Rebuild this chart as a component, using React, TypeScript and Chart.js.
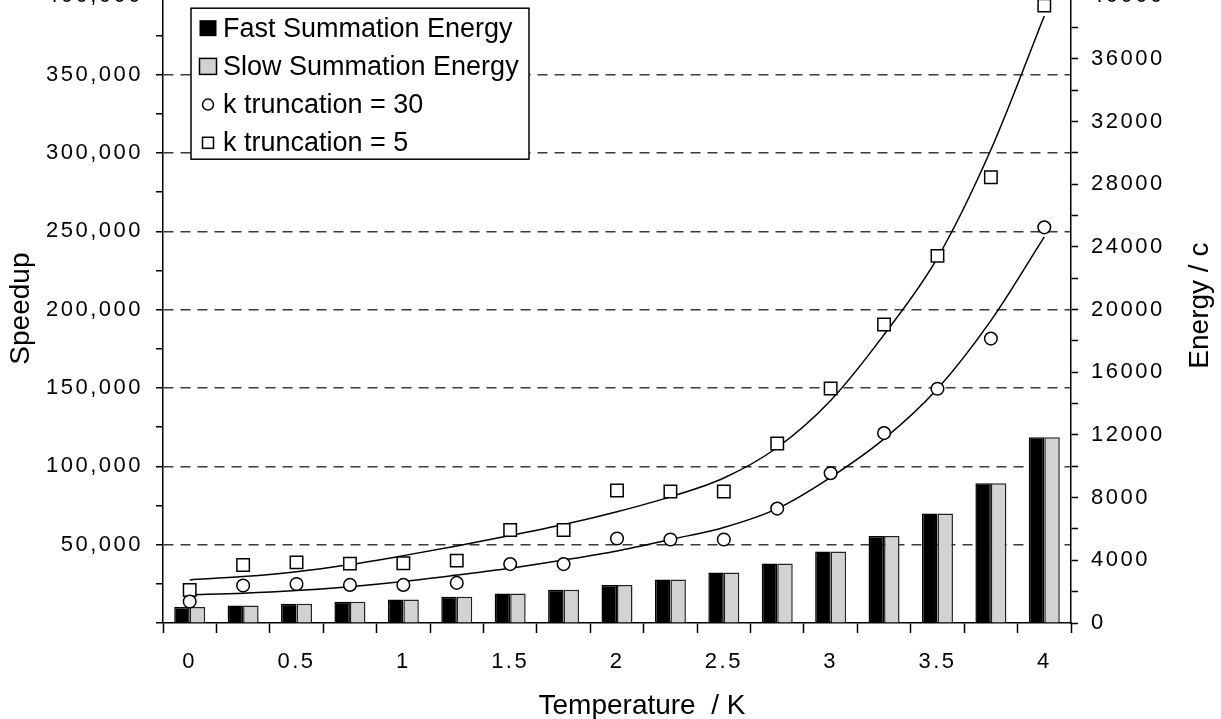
import React, { useEffect, useRef } from 'react';
import { Chart, registerables } from 'chart.js';

Chart.register(...registerables);

// ---- data ----
const temperatures = ['0', '0.25', '0.5', '0.75', '1', '1.25', '1.5', '1.75', '2', '2.25', '2.5', '2.75', '3', '3.25', '3.5', '3.75', '4'];
const fastEnergy = [1020, 1120, 1230, 1355, 1500, 1675, 1885, 2120, 2420, 2780, 3225, 3800, 4560, 5550, 6980, 8925, 11850];
const slowEnergy = [1020, 1120, 1230, 1355, 1500, 1675, 1885, 2120, 2420, 2780, 3225, 3800, 4560, 5550, 6980, 8925, 11850];
const speedupK30 = [13700, 23900, 24900, 24300, 24300, 25600, 37600, 37600, 53900, 53300, 53300, 73000, 95600, 121200, 149500, 181500, 252500];
const speedupK5 = [21100, 37000, 38700, 37900, 38100, 39800, 59400, 59400, 84600, 83900, 83900, 114600, 149700, 190500, 234300, 284400, 394000];
const fitK30 = [18000, 19000, 20700, 23200, 26500, 30600, 35000, 40200, 46000, 53300, 61000, 73000, 93000, 117500, 149500, 193000, 246400];
const fitK5 = [27500, 29600, 32700, 37300, 43000, 49200, 55800, 62800, 71000, 80500, 92500, 112000, 142000, 184000, 233000, 302000, 387400];
const seriesNames = ['Fast Summation Energy', 'Slow Summation Energy', 'k truncation = 30', 'k truncation = 5'];
const axisTitles = { x: 'Temperature  / K', y: 'Speedup', y2: 'Energy / c' };

const FONT = "'Liberation Sans', Arial, Helvetica, sans-serif";
const GRAY = '#d2d2d2';

const tickSpacingPlugin = {
  id: 'tickSpacing',
  beforeDraw(chart: any) {
    chart.ctx.letterSpacing = '2.5px';
  },
  beforeDatasetsDraw(chart: any) {
    chart.ctx.letterSpacing = '0px';
  },
};

const overlayPlugin = {
  id: 'overlay',
  afterDraw(chart: any) {
    const { ctx, chartArea: a } = chart;
    ctx.save();
    ctx.letterSpacing = '0px';
    // legend box
    const bx = a.left + 28;
    const by = a.top + 12;
    const bw = 338;
    const bh = 151;
    ctx.fillStyle = '#fff';
    ctx.fillRect(bx, by, bw, bh);
    ctx.strokeStyle = '#000';
    ctx.lineWidth = 1.5;
    ctx.strokeRect(bx, by, bw, bh);
    ctx.font = `27px ${FONT}`;
    ctx.textBaseline = 'middle';
    ctx.textAlign = 'left';
    seriesNames.forEach((name, i) => {
      const cy = by + 20 + i * 38.2;
      const mx = bx + 17;
      ctx.lineWidth = 1.5;
      ctx.strokeStyle = '#000';
      if (i === 0) {
        ctx.fillStyle = '#000';
        ctx.fillRect(mx - 8.5, cy - 8, 17, 16);
      } else if (i === 1) {
        ctx.fillStyle = GRAY;
        ctx.fillRect(mx - 8.5, cy - 8, 17, 16);
        ctx.strokeRect(mx - 8.5, cy - 8, 17, 16);
      } else if (i === 2) {
        ctx.fillStyle = '#fff';
        ctx.beginPath();
        ctx.arc(mx, cy, 5.5, 0, Math.PI * 2);
        ctx.fill();
        ctx.stroke();
      } else {
        ctx.fillStyle = '#fff';
        ctx.fillRect(mx - 5.5, cy - 5.5, 11, 11);
        ctx.strokeRect(mx - 5.5, cy - 5.5, 11, 11);
      }
      ctx.fillStyle = '#000';
      ctx.fillText(name, bx + 32, cy + 1);
    });
    // axis titles
    ctx.font = `28px ${FONT}`;
    ctx.fillStyle = '#000';
    ctx.textAlign = 'center';
    ctx.textBaseline = 'alphabetic';
    ctx.fillText(axisTitles.x, (a.left + a.right) / 2 + 25, a.bottom + 91);
    const midY = (a.top + a.bottom) / 2;
    ctx.save();
    ctx.translate(a.left - 134, midY - 1);
    ctx.rotate(-Math.PI / 2);
    ctx.fillText(axisTitles.y, 0, 0);
    ctx.restore();
    ctx.save();
    ctx.translate(a.right + 137, midY - 4);
    ctx.rotate(-Math.PI / 2);
    ctx.fillText(axisTitles.y2, 0, 0);
    ctx.restore();
    ctx.restore();
  },
};

export default function App() {
  const ref = useRef<HTMLCanvasElement>(null);
  useEffect(() => {
    const canvas = ref.current!;
    const tickFont = { family: FONT, size: 22 };
    const chart = new Chart(canvas, {
      type: 'bar',
      data: {
        labels: temperatures,
        datasets: [
          {
            type: 'line',
            label: seriesNames[2],
            data: speedupK30,
            yAxisID: 'y',
            showLine: false,
            pointStyle: 'circle',
            pointRadius: 6.3,
            pointBackgroundColor: '#fff',
            pointBorderColor: '#000',
            pointBorderWidth: 1.5,
            order: 0,
          },
          {
            type: 'line',
            label: seriesNames[3],
            data: speedupK5,
            yAxisID: 'y',
            showLine: false,
            pointStyle: 'rect',
            pointRadius: 8.8,
            pointBackgroundColor: '#fff',
            pointBorderColor: '#000',
            pointBorderWidth: 1.5,
            order: 0,
          },
          {
            type: 'line',
            label: 'fit k30',
            data: fitK30,
            yAxisID: 'y',
            borderColor: '#000',
            borderWidth: 1.5,
            pointRadius: 0,
            cubicInterpolationMode: 'monotone',
            fill: false,
            order: 1,
          },
          {
            type: 'line',
            label: 'fit k5',
            data: fitK5,
            yAxisID: 'y',
            borderColor: '#000',
            borderWidth: 1.5,
            pointRadius: 0,
            cubicInterpolationMode: 'monotone',
            fill: false,
            order: 1,
          },
          {
            type: 'bar',
            label: seriesNames[0],
            data: fastEnergy,
            yAxisID: 'y2',
            backgroundColor: '#000',
            borderColor: '#000',
            borderWidth: 1.5,
            categoryPercentage: 0.58,
            barPercentage: 1,
            order: 2,
          },
          {
            type: 'bar',
            label: seriesNames[1],
            data: slowEnergy,
            yAxisID: 'y2',
            backgroundColor: GRAY,
            borderColor: '#222',
            borderWidth: 1.5,
            categoryPercentage: 0.58,
            barPercentage: 1,
            order: 2,
          },
        ],
      } as any,
      options: {
        responsive: false,
        devicePixelRatio: 1,
        animation: false,
        layout: { padding: { top: 23, left: 0, right: 0, bottom: 0 } },
        plugins: { legend: { display: false }, tooltip: { enabled: false } },
        scales: {
          x: {
            type: 'category',
            offset: true,
            afterFit: (s: any) => { s.height = 96; },
            grid: { offset: true, drawOnChartArea: false, tickLength: 10, tickColor: '#000', tickWidth: 1.5, color: '#000' },
            border: { color: '#000', width: 1.5 },
            ticks: {
              autoSkip: false,
              maxRotation: 0,
              padding: 16,
              color: '#000',
              font: tickFont,
              callback: (_v: any, i: number) => (i % 2 === 0 ? temperatures[i] : ''),
            },
          },
          y: {
            position: 'left',
            min: 0,
            max: 400000,
            afterFit: (s: any) => { s.width = 163; },
            grid: {
              color: (c: any) => (c.tick && c.tick.value % 50000 === 0 && c.tick.value !== 0 ? '#3a3a3a' : 'rgba(0,0,0,0)'),
              lineWidth: 1.5,
              tickLength: 7,
              tickColor: '#000',
              tickWidth: 1.5,
            },
            border: { color: '#000', width: 1.5, dash: [10, 7] },
            ticks: {
              stepSize: 25000,
              autoSkip: false,
              padding: 13,
              color: '#000',
              font: tickFont,
              callback: (v: any) => {
                const n = Number(v);
                return n !== 0 && n % 50000 === 0 ? n.toLocaleString('en-US') : '';
              },
            },
          },
          y2: {
            position: 'right',
            min: 0,
            max: 40000,
            afterFit: (s: any) => { s.width = 150; },
            grid: { drawOnChartArea: false, tickLength: 7, tickColor: '#000', tickWidth: 1.5 },
            border: { color: '#000', width: 1.5 },
            ticks: {
              stepSize: 2000,
              autoSkip: false,
              padding: 13,
              color: '#000',
              font: tickFont,
              callback: (v: any) => (Number(v) % 4000 === 0 ? String(v) : ''),
            },
          },
        },
      } as any,
      plugins: [tickSpacingPlugin, overlayPlugin],
    });
    return () => chart.destroy();
  }, []);
  return (
    <div style={{ position: 'absolute', left: 0, top: -30, width: 1221, height: 749, background: '#fff' }}>
      <canvas ref={ref} width={1221} height={749} style={{ display: 'block', width: 1221, height: 749 }} />
    </div>
  );
}
